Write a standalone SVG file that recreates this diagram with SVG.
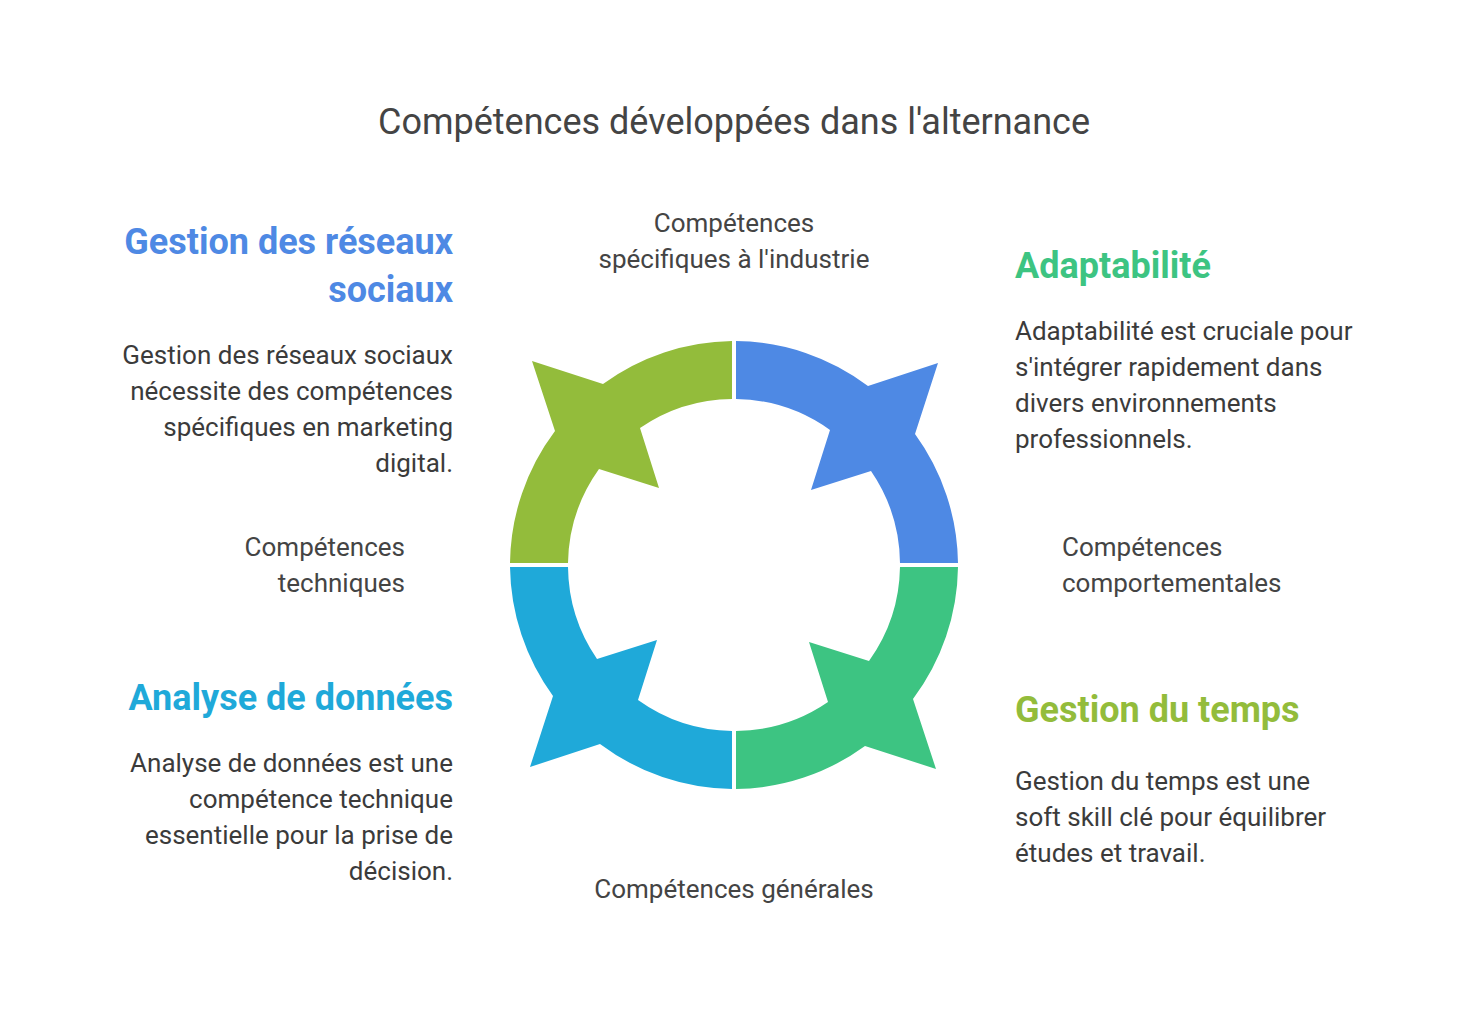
<svg xmlns="http://www.w3.org/2000/svg" width="1469" height="1036" viewBox="0 0 1469 1036">
<defs>
<style>
text{font-family:Roboto,"Liberation Sans",sans-serif}
.title{font-size:36px;fill:#444;text-anchor:middle}
.h{font-size:36px;font-weight:bold}
.b{font-size:26px;fill:#3b3b3b}
.l{font-size:26px;fill:#444}
.r{text-anchor:end}
.m{text-anchor:middle}
</style>
<path id="seg" d="M2,-224 A224,224 0 0 1 134,-179 L204,-202 L181,-131 A224,224 0 0 1 224,-2 L166,-2 A166,166 0 0 0 137,-94 L77,-75 L96,-135 A166,166 0 0 0 2,-166 Z"/>
</defs>
<rect width="1469" height="1036" fill="#fff"/>
<text class="title" x="734" y="134">Compétences développées dans l'alternance</text>
<g id="ring" transform="translate(734,565)">
<g id="seg-blue"><use href="#seg" fill="#4E89E4"/></g>
<g id="seg-green"><use href="#seg" fill="#3DC482" transform="rotate(90)"/></g>
<g id="seg-cyan"><use href="#seg" fill="#1FA9D9" transform="rotate(180)"/></g>
<g id="seg-olive"><use href="#seg" fill="#93BC3B" transform="rotate(270)"/></g>
</g>
<g id="connectors"></g>
<g id="lbl-top"><text class="l m" x="734" y="232">Compétences</text><text class="l m" x="734" y="268">spécifiques à l'industrie</text></g>
<g id="lbl-left"><text class="l r" x="405" y="556">Compétences</text><text class="l r" x="405" y="592">techniques</text></g>
<g id="lbl-right"><text class="l" x="1062" y="556">Compétences</text><text class="l" x="1062" y="592">comportementales</text></g>
<g id="lbl-bottom"><text class="l m" x="734" y="898">Compétences générales</text></g>
<g id="n-reseaux">
<text class="h r" x="453" y="254" fill="#4E89E4">Gestion des réseaux</text>
<text class="h r" x="453" y="302" fill="#4E89E4">sociaux</text>
<text class="b r" x="453" y="364">Gestion des réseaux sociaux</text>
<text class="b r" x="453" y="400">nécessite des compétences</text>
<text class="b r" x="453" y="436">spécifiques en marketing</text>
<text class="b r" x="453" y="472">digital.</text>
</g>
<g id="n-adapt">
<text class="h" x="1015" y="278" fill="#3DC482">Adaptabilité</text>
<text class="b" x="1015" y="340">Adaptabilité est cruciale pour</text>
<text class="b" x="1015" y="376">s'intégrer rapidement dans</text>
<text class="b" x="1015" y="412">divers environnements</text>
<text class="b" x="1015" y="448">professionnels.</text>
</g>
<g id="n-analyse">
<text class="h r" x="453" y="710" fill="#1FA9D9">Analyse de données</text>
<text class="b r" x="453" y="772">Analyse de données est une</text>
<text class="b r" x="453" y="808">compétence technique</text>
<text class="b r" x="453" y="844">essentielle pour la prise de</text>
<text class="b r" x="453" y="880">décision.</text>
</g>
<g id="n-temps">
<text class="h" x="1015" y="722" fill="#93BC3B">Gestion du temps</text>
<text class="b" x="1015" y="790">Gestion du temps est une</text>
<text class="b" x="1015" y="826">soft skill clé pour équilibrer</text>
<text class="b" x="1015" y="862">études et travail.</text>
</g>
</svg>
